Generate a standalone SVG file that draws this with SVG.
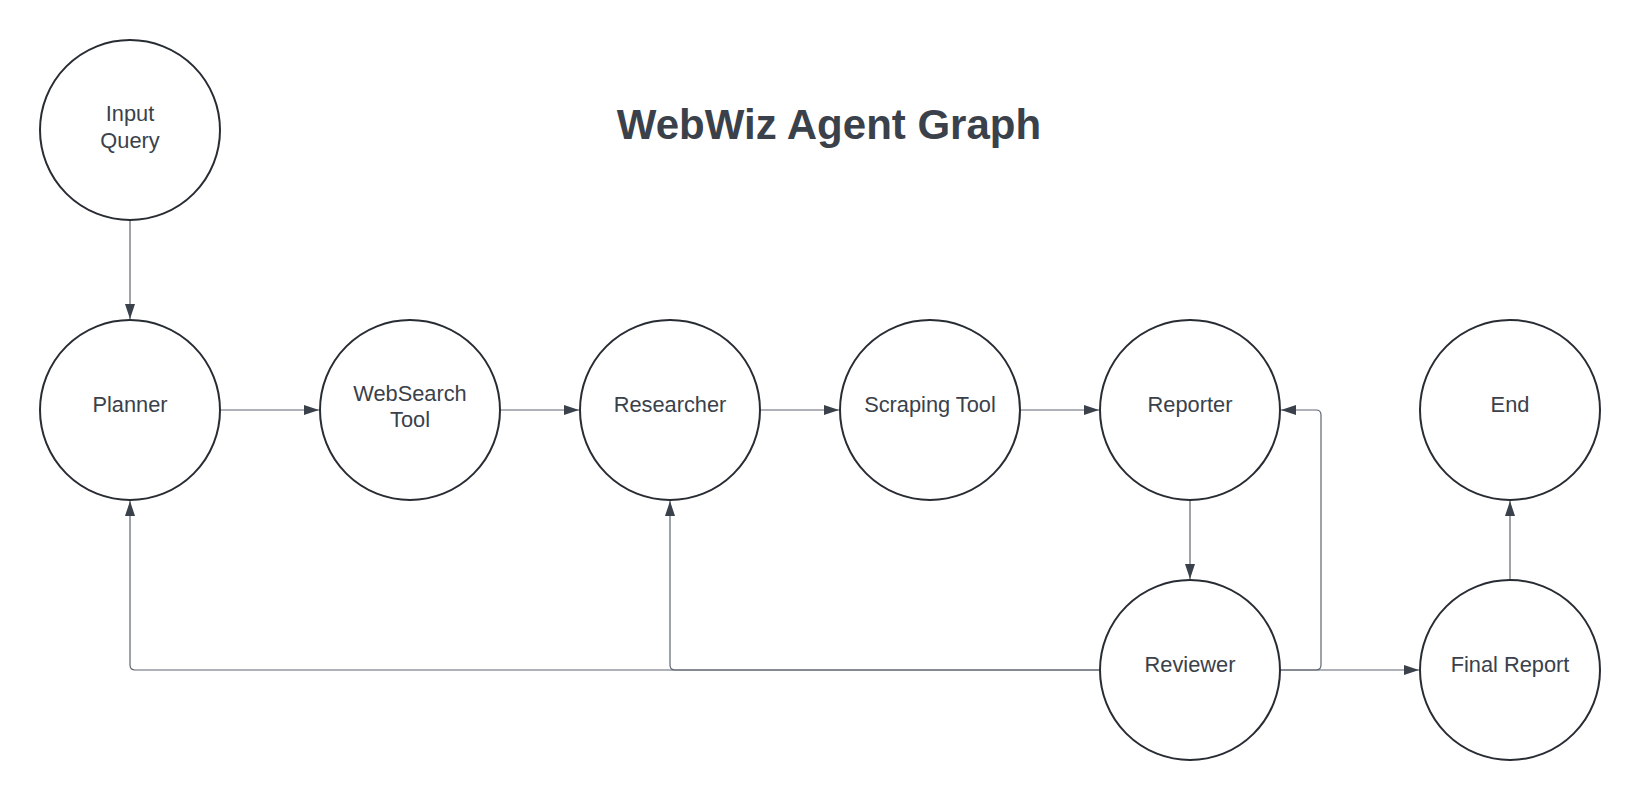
<svg xmlns="http://www.w3.org/2000/svg" width="1640" height="800" viewBox="0 0 1640 800">
<style>
.node circle{fill:#ffffff;stroke:#282c33;stroke-width:2}
.node text{font-family:"Liberation Sans",Arial,sans-serif;font-size:21.8px;fill:#3a414a;text-anchor:middle}
.title{font-family:"Liberation Sans",Arial,sans-serif;font-size:42px;font-weight:bold;fill:#3a414a;text-anchor:middle}
.edges path{fill:none;stroke:#5e6570;stroke-width:1.2}
</style>
<defs>
<marker id="arrow" viewBox="0 0 15 10" refX="15" refY="5" markerWidth="15" markerHeight="10" markerUnits="userSpaceOnUse" orient="auto">
<path d="M0,0 L15,5 L0,10 Z" fill="#3a414a"/>
</marker>
</defs>
<rect width="1640" height="800" fill="#ffffff"/>
<text class="title" x="829" y="139">WebWiz Agent Graph</text>
<g class="edges">
<path d="M130,220 V319" marker-end="url(#arrow)"/>
<path d="M220,410 H319" marker-end="url(#arrow)"/>
<path d="M500,410 H579" marker-end="url(#arrow)"/>
<path d="M760,410 H839" marker-end="url(#arrow)"/>
<path d="M1020,410 H1099" marker-end="url(#arrow)"/>
<path d="M1190,500 V579" marker-end="url(#arrow)"/>
<path d="M1100,670 H675 Q670,670 670,665 V501" marker-end="url(#arrow)"/>
<path d="M1100,670 H135 Q130,670 130,665 V501" marker-end="url(#arrow)"/>
<path d="M1280,670 H1316 Q1321,670 1321,665 V415 Q1321,410 1316,410 H1281" marker-end="url(#arrow)"/>
<path d="M1280,670 H1419" marker-end="url(#arrow)"/>
<path d="M1510,580 V501" marker-end="url(#arrow)"/>
</g>
<g id="input-query" class="node"><circle cx="130" cy="130" r="90"/><text x="130" y="121">Input</text><text x="130" y="148">Query</text></g>
<g id="planner" class="node"><circle cx="130" cy="410" r="90"/><text x="130" y="412">Planner</text></g>
<g id="websearch-tool" class="node"><circle cx="410" cy="410" r="90"/><text x="410" y="401">WebSearch</text><text x="410" y="427">Tool</text></g>
<g id="researcher" class="node"><circle cx="670" cy="410" r="90"/><text x="670" y="412">Researcher</text></g>
<g id="scraping-tool" class="node"><circle cx="930" cy="410" r="90"/><text x="930" y="412">Scraping Tool</text></g>
<g id="reporter" class="node"><circle cx="1190" cy="410" r="90"/><text x="1190" y="412">Reporter</text></g>
<g id="end" class="node"><circle cx="1510" cy="410" r="90"/><text x="1510" y="412">End</text></g>
<g id="reviewer" class="node"><circle cx="1190" cy="670" r="90"/><text x="1190" y="672">Reviewer</text></g>
<g id="final-report" class="node"><circle cx="1510" cy="670" r="90"/><text x="1510" y="672">Final Report</text></g>
</svg>
